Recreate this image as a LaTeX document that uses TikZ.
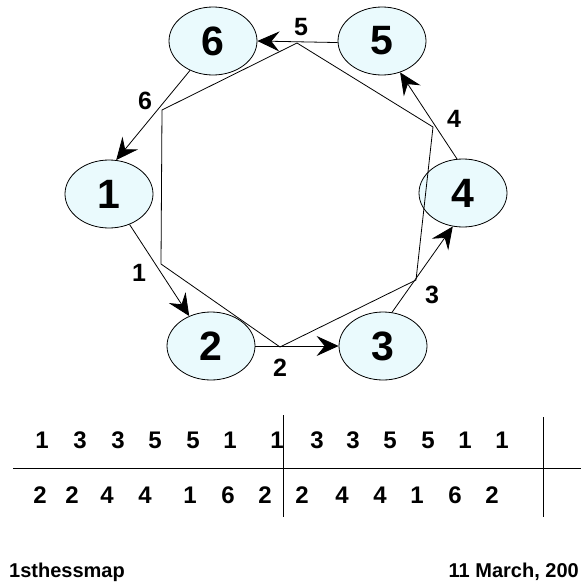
\documentclass[tikz,border=0pt]{standalone}
\usepackage{fontspec}
\setmainfont{Liberation Sans}
\usetikzlibrary{shapes.geometric,arrows.meta}
\definecolor{nodefill}{RGB}{234,250,253}
\tikzset{
  vert/.style={ellipse,draw=black,line width=0.8pt,fill=nodefill,minimum width=88pt,minimum height=68pt,inner sep=0pt,font=\fontsize{41}{41}\selectfont\bfseries},
  arr/.style={line width=0.8pt,-{Stealth[length=22pt,width=20pt,inset=8pt]}},
  elab/.style={font=\fontsize{25}{25}\selectfont\bfseries,inner sep=0pt},
  tnum/.style={font=\fontsize{24}{24}\selectfont\bfseries,inner sep=0pt},
  foot/.style={font=\fontsize{20}{20}\selectfont\bfseries,inner sep=0pt},
  thin/.style={line width=0.8pt}
}
\begin{document}
\begin{tikzpicture}[x=1pt,y=-1pt]
\useasboundingbox (0,0) rectangle (581,584);
% vertices
\node[vert] (n6) at (213,41) {6};
\node[vert] (n5) at (382,41) {5};
\node[vert] (n1) at (109,194) {1};
\node[vert] (n4) at (463,193) {4};
\node[vert] (n2) at (211,346) {2};
\node[vert] (n3) at (383,346) {3};
% hexagon
\coordinate (h1) at (297,43);
\coordinate (h2) at (433,127);
\coordinate (h3) at (416,280);
\coordinate (h4) at (280,347);
\coordinate (h5) at (161,264);
\coordinate (h6) at (162,110);
\draw[thin] (h1) -- (h2) -- (h3) -- (h4) -- (h5) -- (h6) -- cycle;
% arrows
\draw[arr] (n5.182) -- (n6.0);
\draw[arr] (n6.232) -- (n1.78);
\draw[arr] (n1.304) -- (n2.126);
\draw[arr] (n2.0) -- (n3.180);
\draw[arr] (n3.75) -- (n4.253);
\draw[arr] (n4.100) -- (n5.300);
% edge labels
\node[elab] (l5) at (301,27) {5};
\node[elab] (l6) at (145,101) {6};
\node[elab] (l1) at (139,273) {1};
\node[elab] (l2) at (280,368) {2};
\node[elab] (l3) at (432,295) {3};
\node[elab] (l4) at (454,119) {4};
% table
\coordinate (hl1) at (13,468);
\coordinate (hl2) at (581,468);
\coordinate (v1a) at (283,415);
\coordinate (v1b) at (283,517);
\coordinate (v2a) at (543,417);
\coordinate (v2b) at (543,517);
\draw[thin] (hl1) -- (hl2);
\draw[thin] (v1a) -- (v1b);
\draw[thin] (v2a) -- (v2b);
\foreach \x/\t [count=\i] in {42/1,80/3,118/3,155/5,193/5,230/1,277/1,317/3,353/3,390/5,428/5,465/1,502/1}
  \node[tnum] (ta\i) at (\x,440) {\t};
\foreach \x/\t [count=\i] in {40/2,72/2,107/4,145/4,190/1,228/6,265/2,302/2,342/4,380/4,417/1,455/6,492/2}
  \node[tnum] (tb\i) at (\x,495) {\t};
% footer
\node[foot,anchor=base west] (f1) at (9,577) {1sthessmap};
\node[foot,anchor=base east] (f2) at (579,577) {11 March, 200};
\end{tikzpicture}
\end{document}
